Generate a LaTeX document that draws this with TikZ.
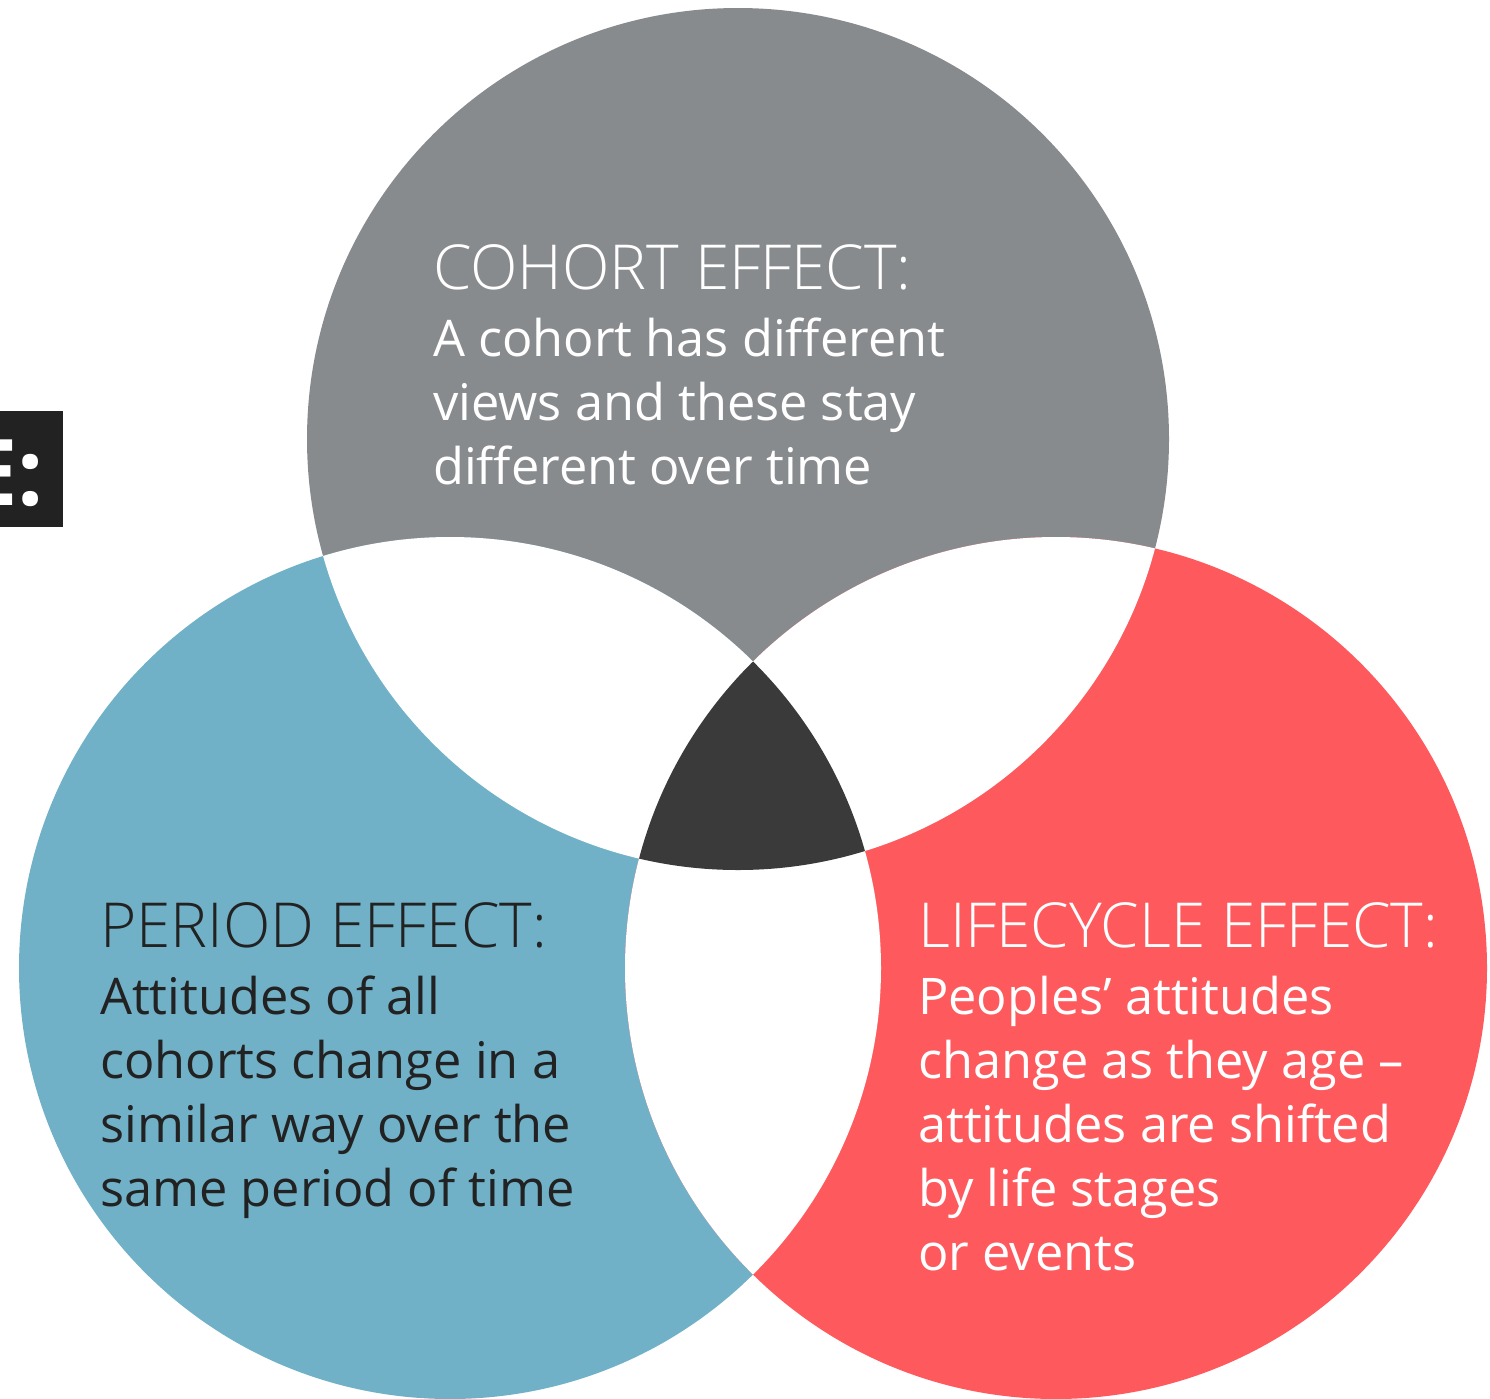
\documentclass[tikz,border=0pt]{standalone}
\usepackage{fontspec}
\setmainfont{Open Sans}
\newfontfamily\headfont{Open Sans Light}
\definecolor{cohortgray}{HTML}{888B8E}
\definecolor{periodblue}{HTML}{71B1C8}
\definecolor{lifered}{HTML}{FE5A5E}
\definecolor{coredark}{HTML}{3A3A3A}
\definecolor{tagblack}{HTML}{222222}
\definecolor{inkdark}{HTML}{222222}
\begin{document}
\begin{tikzpicture}[x=1pt,y=-1pt,
  headtext/.style={anchor=base west,inner sep=0pt,font=\headfont\fontsize{62}{62}\selectfont},
  bodytext/.style={anchor=north west,inner sep=0pt,align=left,font=\fontsize{50.5}{64}\selectfont}]
\useasboundingbox (0,0) rectangle (1490,1398);
\coordinate (G) at (738,439);
\coordinate (B) at (450,968);
\coordinate (R) at (1056,968);
\def\rad{431}
% circles
\fill[cohortgray] (G) circle (\rad);
\fill[periodblue] (B) circle (\rad);
\fill[lifered] (R) circle (\rad);
% pairwise overlaps stay white
\begin{scope}
  \clip (G) circle (\rad);
  \fill[white] (B) circle (\rad);
  \fill[white] (R) circle (\rad);
\end{scope}
\begin{scope}
  \clip (B) circle (\rad);
  \fill[white] (R) circle (\rad);
\end{scope}
% common core
\begin{scope}
  \clip (G) circle (\rad);
  \clip (B) circle (\rad);
  \fill[coredark] (R) circle (\rad);
\end{scope}
% cut-off tag on the left
\begin{scope}
  \clip (0,411) rectangle (63,527);
  \fill[tagblack] (0,411) rectangle (63,527);
  \node[anchor=base east,inner sep=0pt,text=white,font=\bfseries\fontsize{92}{92}\selectfont] (tag) at (44,505) {E:};
\end{scope}
% labels
\node[headtext,text=white] (cohorthead) at (433,289) {COHORT EFFECT:};
\node[bodytext,text=white] (cohortbody) at (433,318) {A cohort has different\\views and these stay\\different over time};
\node[headtext,text=inkdark] (periodhead) at (100,947) {PERIOD EFFECT:};
\node[bodytext,text=inkdark] (periodbody) at (100,976) {Attitudes of all\\cohorts change in a\\similar way over the\\same period of time};
\node[headtext,text=white] (lifehead) at (918,947) {LIFECYCLE EFFECT:};
\node[bodytext,text=white] (lifebody) at (918,976) {Peoples’ attitudes\\change as they age –\\attitudes are shifted\\by life stages\\or events};
\end{tikzpicture}
\end{document}
